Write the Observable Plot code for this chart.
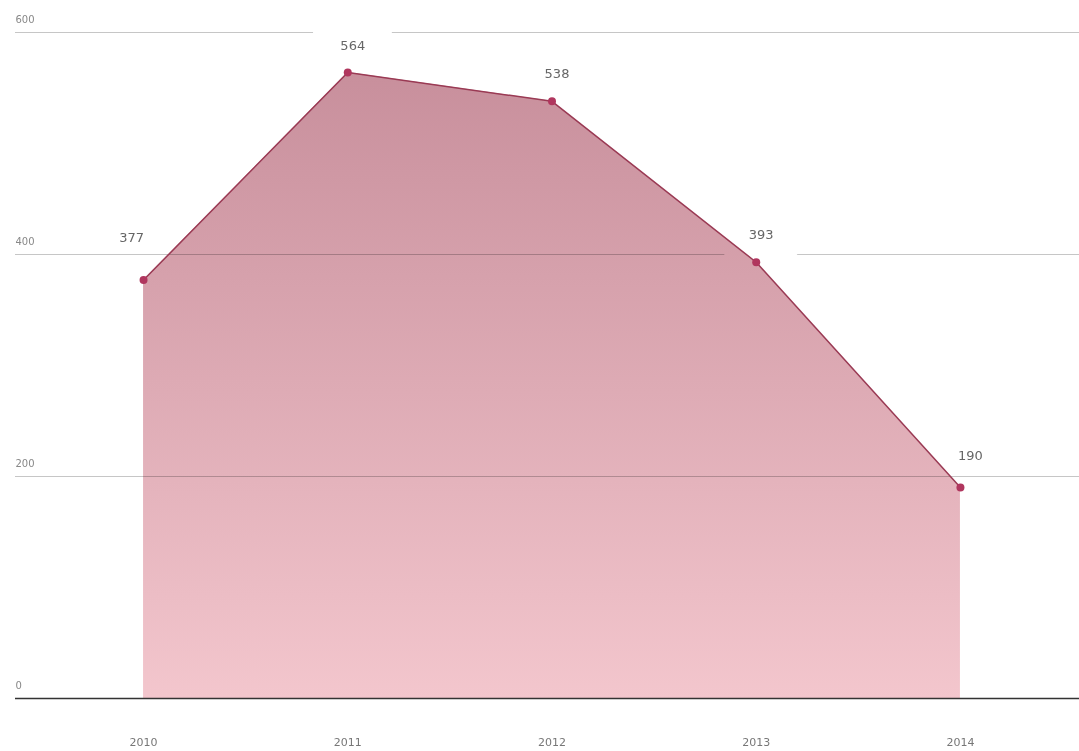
<!DOCTYPE html>
<html><head><meta charset="utf-8">
<script src="https://cdn.jsdelivr.net/npm/d3@7"></script>
<script src="https://cdn.jsdelivr.net/npm/@observablehq/plot@0.6"></script>
<style>body{margin:0;background:#fff}</style>
</head><body><div id="chart"></div>
<script>
const years = [2010, 2011, 2012, 2013, 2014];
const values = [377, 564, 538, 393, 190];
const yTicks = [0, 200, 400, 600];
const data = years.map((year, i) => ({year, value: values[i]}));

const first = years[0], last = years[years.length - 1];
const isMiddle = d => d.year !== first && d.year !== last;
const label = d => String(d.value);
const labelStyle = {x: "year", y: "value", text: label, fontSize: 13, fill: "#666"};

const plot = Plot.plot({
  width: 1079, height: 751,
  marginLeft: 15, marginRight: 0, marginTop: 32, marginBottom: 53,
  x: {domain: [2009.373, 2014.583], axis: null},
  y: {domain: [0, 600], axis: null},
  style: {background: "#fff", fontFamily: "'DejaVu Sans', sans-serif"},
  marks: [
    Plot.ruleY(yTicks.filter(t => t > 0), {stroke: "#c6c6c6", strokeWidth: 1}),
    // white knock-outs behind the middle value labels (gaps in the grid lines)
    Plot.text(data, {...labelStyle, filter: isMiddle, dx: 5, dy: -27,
      fill: "white", stroke: "white", strokeWidth: 60, strokeLinejoin: "round"}),
    Plot.areaY(data, {x: "year", y: "value", fill: "url(#areaGrad)"}),
    Plot.lineY(data, {x: "year", y: "value", stroke: "#9a3a54", strokeWidth: 1.5}),
    Plot.dot(data, {x: "year", y: "value", r: 4, fill: "#b0365e"}),
    Plot.text(data, {...labelStyle, filter: isMiddle, dx: 5, dy: -27}),
    Plot.text(data, {...labelStyle, filter: d => d.year === first, dx: -12, dy: -42}),
    Plot.text(data, {...labelStyle, filter: d => d.year === last, dx: 10, dy: -32}),
    Plot.text(yTicks, {y: d => d, frameAnchor: "left", textAnchor: "start", dy: -13, fontSize: 10, fill: "#888", text: d => String(d)}),
    Plot.text(years, {x: d => d, frameAnchor: "bottom", dy: 47, fontSize: 11, fill: "#777", text: d => String(d)}),
    Plot.ruleY([0], {stroke: "#333", strokeWidth: 1.5})
  ]
});

const svg = d3.select(plot.tagName === "svg" ? plot : plot.querySelector("svg"));
const defs = svg.insert("defs", ":first-child");
const grad = defs.append("linearGradient").attr("id", "areaGrad")
  .attr("x1", 0).attr("y1", 0).attr("x2", 0).attr("y2", 1);
grad.append("stop").attr("offset", "0%").attr("stop-color", "#c88f9c");
grad.append("stop").attr("offset", "100%").attr("stop-color", "#f3c6cd");
svg.selectAll('g[aria-label="area"]').style("mix-blend-mode", "multiply");

document.getElementById("chart").appendChild(plot);
</script>
</body></html>
